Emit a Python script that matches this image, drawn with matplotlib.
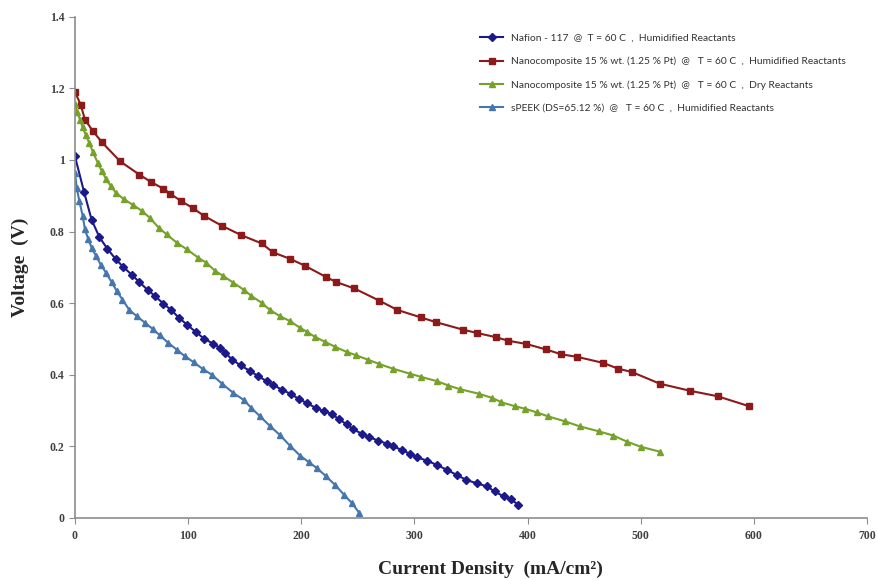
# polarization curves for the membranes at 60 C
import matplotlib
matplotlib.use("Agg")
import matplotlib.pyplot as plt

# current density (mA/cm2) and voltage (V) for each membrane
nafion_i = [0, 8, 14.7, 21.5, 28.6, 36, 42.7, 50, 56.9, 64.2, 70.7, 78, 85, 92, 99, 107, 114, 122,
            128, 133, 139, 146.5, 155, 162, 169.5, 175, 183, 191, 198, 205, 213, 220, 227, 233, 240,
            246, 253.5, 260, 268, 276, 281, 289, 296, 302, 311, 320, 329, 337.5, 346, 355, 364, 371,
            379, 385, 392]
nafion_v = [1.010, 0.911, 0.833, 0.785, 0.752, 0.723, 0.701, 0.680, 0.659, 0.637, 0.620, 0.599, 0.581,
            0.559, 0.540, 0.519, 0.501, 0.487, 0.475, 0.461, 0.442, 0.426, 0.410, 0.396, 0.382, 0.372,
            0.358, 0.346, 0.332, 0.321, 0.307, 0.298, 0.291, 0.276, 0.262, 0.248, 0.235, 0.226, 0.216,
            0.207, 0.200, 0.190, 0.179, 0.170, 0.160, 0.148, 0.134, 0.120, 0.106, 0.097, 0.088, 0.074,
            0.060, 0.052, 0.037]

nano_hum_i = [0, 5, 8.8, 16, 24, 40, 57, 67, 78, 84, 94, 104, 114, 130, 147, 165, 175, 190, 203,
              222, 231, 247, 269, 285, 306, 319, 343, 355, 372, 383, 399, 416, 430, 444, 467, 480,
              492, 517, 544, 568, 596]
nano_hum_v = [1.190, 1.155, 1.113, 1.080, 1.049, 0.996, 0.959, 0.939, 0.920, 0.906, 0.885, 0.866,
              0.844, 0.816, 0.790, 0.767, 0.742, 0.724, 0.705, 0.673, 0.659, 0.641, 0.607, 0.581,
              0.560, 0.547, 0.526, 0.517, 0.505, 0.495, 0.486, 0.471, 0.457, 0.450, 0.433, 0.417,
              0.408, 0.375, 0.355, 0.340, 0.312]

nano_dry_i = [0, 2, 4.4, 6.8, 9.5, 12.7, 16, 20, 23.6, 27.4, 31.5, 36, 43, 51.5, 59, 66, 74, 81, 90,
              99, 109, 116, 124, 131, 140, 149, 156, 165, 172, 181, 190, 199, 205, 212, 221, 230,
              240, 248, 259, 269, 281, 296, 306, 320, 330, 340, 357, 369, 377, 389, 398, 408, 418,
              433, 446, 463, 476, 488, 500, 517]
nano_dry_v = [1.157, 1.133, 1.113, 1.091, 1.070, 1.047, 1.021, 0.993, 0.970, 0.947, 0.928, 0.909,
              0.891, 0.874, 0.858, 0.839, 0.811, 0.792, 0.769, 0.750, 0.727, 0.713, 0.690, 0.676,
              0.657, 0.638, 0.620, 0.601, 0.582, 0.564, 0.550, 0.531, 0.520, 0.506, 0.492, 0.478,
              0.464, 0.455, 0.442, 0.430, 0.417, 0.403, 0.394, 0.382, 0.370, 0.360, 0.347, 0.335,
              0.323, 0.312, 0.305, 0.295, 0.284, 0.270, 0.256, 0.242, 0.230, 0.213, 0.199, 0.185]

speek_i = [0, 1.5, 3.8, 6.8, 8.8, 11.8, 14.7, 18.6, 22.7, 27.4, 32.4, 36.9, 42, 48, 54.5, 62, 68.7,
           75, 82.5, 90, 97, 105, 113, 121, 130, 140, 149, 156, 163.5, 172, 181, 190, 199, 207,
           214, 222, 230, 238, 245, 251]
speek_v = [0.965, 0.923, 0.886, 0.844, 0.806, 0.778, 0.755, 0.732, 0.708, 0.685, 0.659, 0.634, 0.610,
           0.581, 0.564, 0.545, 0.528, 0.510, 0.489, 0.470, 0.452, 0.435, 0.416, 0.400, 0.375, 0.349,
           0.330, 0.307, 0.284, 0.258, 0.232, 0.202, 0.174, 0.155, 0.139, 0.116, 0.092, 0.064,
           0.041, 0.015]

labels = ["Nafion - 117  @  T = 60 C  ,  Humidified Reactants",
          "Nanocomposite 15 % wt. (1.25 % Pt)  @   T = 60 C  ,  Humidified Reactants",
          "Nanocomposite 15 % wt. (1.25 % Pt)  @   T = 60 C  ,  Dry Reactants",
          "sPEEK (DS=65.12 %)  @   T = 60 C  ,  Humidified Reactants"]

fig = plt.figure(figsize=(8.77, 5.80), dpi=100)
ax = fig.add_axes([0.0855, 0.107, 0.903, 0.864])

ax.plot(nafion_i, nafion_v, color="#1c1a8a", marker="D", markersize=4, lw=1.5, label=labels[0])
ax.plot(nano_hum_i, nano_hum_v, color="#8c1a1a", marker="s", markersize=5, lw=1.5, label=labels[1])
ax.plot(nano_dry_i, nano_dry_v, color="#76a22a", marker="^", markersize=5, lw=1.5, label=labels[2])
ax.plot(speek_i, speek_v, color="#4676ad", marker="^", markersize=5, lw=1.5, label=labels[3])

ax.set_xlim(0, 700)
ax.set_ylim(0, 1.4)
ax.set_xticks(range(0, 701, 100))
ax.set_yticks([0, 0.2, 0.4, 0.6, 0.8, 1.0, 1.2, 1.4])
ax.set_yticklabels(["0", "0.2", "0.4", "0.6", "0.8", "1", "1.2", "1.4"])

for s in ["top", "right"]:
    ax.spines[s].set_visible(False)
for s in ["left", "bottom"]:
    ax.spines[s].set_color("#8c8c8c")
    ax.spines[s].set_linewidth(1.2)
ax.tick_params(direction="out", length=4, color="#8c8c8c", labelcolor="#404040")
ax.tick_params(axis="x", pad=5)
for t in ax.get_xticklabels() + ax.get_yticklabels():
    t.set_family("Liberation Serif")
    t.set_fontsize(8.5)
    t.set_fontweight("bold")

ax.set_xlabel("Current Density  (mA/cm²)", family="Liberation Serif", fontsize=14,
              fontweight="bold", color="#262626")
ax.xaxis.set_label_coords(0.525, -0.085)
ax.set_ylabel("Voltage  (V)", family="Liberation Serif", fontsize=14,
              fontweight="bold", color="#262626")
ax.yaxis.set_label_coords(-0.058, 0.5)

leg = ax.legend(loc="upper left", bbox_to_anchor=(0.5, 0.985), frameon=False,
                prop={"family": "Lato", "size": 7.4}, handlelength=2.2, labelspacing=1.35,
                handletextpad=0.8)
for t in leg.get_texts():
    t.set_color("#333333")

fig.savefig("out.png", dpi=100)
